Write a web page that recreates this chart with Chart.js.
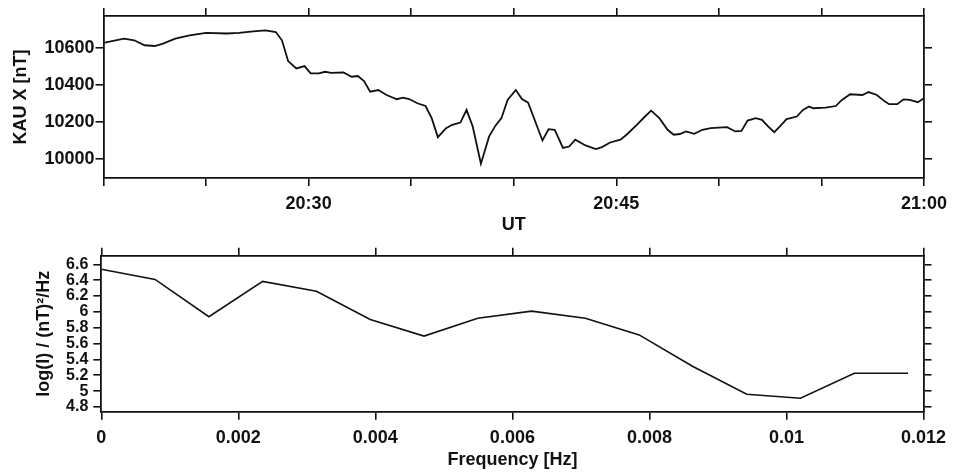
<!DOCTYPE html>
<html>
<head>
<meta charset="utf-8">
<script src="https://cdn.jsdelivr.net/npm/chart.js@4.4.1/dist/chart.umd.min.js"></script>
<style>
  body { margin: 0; background: #fff; }
  .panel { position: absolute; left: 0; width: 954px; height: 236px; }
</style>
</head>
<body>
<div class="panel" style="top:0"><canvas id="tsChart"></canvas></div>
<div class="panel" style="top:236px"><canvas id="specChart"></canvas></div>
<script>
// --- top panel: KAU X component, minutes after 20:00 UT
const utMinutes = [20.0, 21.0, 21.5, 22.0, 22.5, 22.9, 23.5, 24.2, 25.0, 26.0, 26.6, 27.3, 27.9, 28.4, 28.7,
  29.0, 29.4, 29.8, 30.1, 30.5, 30.8, 31.1, 31.7, 32.1, 32.4, 32.7, 33.0, 33.4, 33.8, 34.3, 34.6, 34.9,
  35.3, 35.7, 36.0, 36.3, 36.7, 37.0, 37.4, 37.7, 38.0, 38.4, 38.8, 39.1, 39.4, 39.7, 40.1, 40.4, 40.7,
  41.4, 41.7, 42.0, 42.4, 42.7, 43.0, 43.5, 44.0, 44.3, 44.7, 45.2, 45.5, 46.0, 46.4, 46.7, 47.1, 47.5,
  47.8, 48.1, 48.4, 48.8, 49.2, 49.6, 50.0, 50.4, 50.8, 51.1, 51.4, 51.8, 52.1, 52.4, 52.7, 53.0, 53.3,
  53.8, 54.1, 54.4, 54.6, 55.2, 55.7, 56.0, 56.4, 57.0, 57.3, 57.7, 58.1, 58.3, 58.7, 59.0, 59.3, 59.7, 60.0];
const kauX = [10629, 10652, 10643, 10616, 10612, 10625, 10652, 10670, 10683, 10680, 10683, 10692, 10697, 10688, 10643,
  10530, 10490, 10503, 10463, 10463, 10472, 10466, 10468, 10445, 10449, 10422, 10364, 10373, 10346, 10323, 10331, 10324,
  10301, 10286, 10220, 10117, 10166, 10184, 10196, 10265, 10175, 9973, 10121, 10178, 10220, 10319, 10373, 10324, 10304,
  10099, 10160, 10157, 10058, 10066, 10103, 10072, 10052, 10063, 10088, 10103, 10130, 10184, 10229, 10261, 10220, 10157,
  10130, 10134, 10148, 10135, 10157, 10166, 10169, 10171, 10148, 10151, 10207, 10220, 10211, 10175, 10144, 10178, 10215,
  10229, 10265, 10283, 10274, 10277, 10286, 10319, 10350, 10346, 10362, 10346, 10310, 10296, 10296, 10322, 10319, 10307, 10328];
const utTicks = [20, 25, 30, 35, 40, 45, 50, 55, 60];
const utTickLabels = ['', '', '20:30', '', '', '20:45', '', '', '21:00'];
const kauTicks = [10000, 10200, 10400, 10600];

// --- bottom panel: power spectrum
const freqHz = [0, 0.000785, 0.00157, 0.002355, 0.00314, 0.003925, 0.00471, 0.005495,
  0.00628, 0.007065, 0.00785, 0.008635, 0.00942, 0.010205, 0.01099, 0.011775];
const logPower = [6.54, 6.41, 5.94, 6.385, 6.26, 5.905, 5.695, 5.92,
  6.01, 5.92, 5.71, 5.31, 4.96, 4.91, 5.225, 5.225];
const freqTicks = [0, 0.002, 0.004, 0.006, 0.008, 0.01, 0.012];
const powerTicks = [4.8, 5, 5.2, 5.4, 5.6, 5.8, 6, 6.2, 6.4, 6.6];

Chart.defaults.font.family = '"Liberation Sans", Arial, sans-serif';
Chart.defaults.font.weight = 'bold';
Chart.defaults.color = '#111';

const ink = '#111';
const setTicks = vals => s => { s.ticks = vals.map(v => ({ value: v })); };
const fixH = h => s => { s.height = h; };
const fixW = w => s => { s.width = w; };

function axis(extra) {
  return Object.assign({
    type: 'linear',
    grid: { drawOnChartArea: false, drawTicks: true, tickLength: 8, color: ink, lineWidth: 1.6 },
    border: { display: true, color: ink, width: 1.8 },
  }, extra);
}

new Chart(document.getElementById('tsChart'), {
  type: 'line',
  data: {
    datasets: [{
      data: utMinutes.map((t, i) => ({ x: t, y: kauX[i] })),
      borderColor: ink,
      borderWidth: 1.8,
      pointRadius: 0,
      tension: 0,
      xAxisID: 'x',
      yAxisID: 'y'
    }]
  },
  options: {
    responsive: true,
    maintainAspectRatio: false,
    animation: false,
    layout: { padding: 0 },
    plugins: { legend: { display: false }, tooltip: { enabled: false } },
    scales: {
      x: axis({
        position: 'bottom', min: 20, max: 60,
        afterBuildTicks: setTicks(utTicks),
        afterFit: fixH(58),
        ticks: { autoSkip: false, maxRotation: 0, padding: 7, font: { size: 18 },
          callback: (v, i) => utTickLabels[i] },
        title: { display: true, text: 'UT', font: { size: 18 }, padding: { top: 0, bottom: 0 } }
      }),
      x2: axis({
        position: 'top', min: 20, max: 60,
        afterBuildTicks: setTicks(utTicks),
        afterFit: fixH(16),
        ticks: { display: false }
      }),
      y: axis({
        position: 'left', min: 9895, max: 10775,
        afterBuildTicks: setTicks(kauTicks),
        afterFit: fixW(103.5),
        ticks: { autoSkip: false, padding: 1, font: { size: 18 }, callback: v => String(v) },
        title: { display: true, text: 'KAU X [nT]', font: { size: 18 }, padding: { top: 10, bottom: 0 } }
      }),
      y2: axis({
        position: 'right', min: 9895, max: 10775,
        afterBuildTicks: setTicks(kauTicks),
        afterFit: fixW(22.7),
        ticks: { display: false }
      })
    }
  }
});

new Chart(document.getElementById('specChart'), {
  type: 'line',
  data: {
    datasets: [{
      data: freqHz.map((f, i) => ({ x: f, y: logPower[i] })),
      borderColor: ink,
      borderWidth: 1.6,
      pointRadius: 0,
      tension: 0,
      xAxisID: 'x',
      yAxisID: 'y'
    }]
  },
  options: {
    responsive: true,
    maintainAspectRatio: false,
    animation: false,
    layout: { padding: 0 },
    plugins: { legend: { display: false }, tooltip: { enabled: false } },
    scales: {
      x: axis({
        position: 'bottom', min: 0, max: 0.012,
        afterBuildTicks: setTicks(freqTicks),
        afterFit: fixH(60.3),
        ticks: { autoSkip: false, maxRotation: 0, padding: 8, font: { size: 18 },
          callback: v => String(+v.toFixed(3)) },
        title: { display: true, text: 'Frequency [Hz]', font: { size: 18 }, padding: { top: 0, bottom: 1 } }
      }),
      x2: axis({
        position: 'top', min: 0, max: 0.012,
        afterBuildTicks: setTicks(freqTicks),
        afterFit: fixH(19.7),
        ticks: { display: false }
      }),
      y: axis({
        position: 'left', min: 4.74, max: 6.71,
        afterBuildTicks: setTicks(powerTicks),
        afterFit: fixW(101.3),
        ticks: { autoSkip: false, padding: 5, font: { size: 16 },
          callback: v => String(+v.toFixed(1)) },
        title: { display: true, text: 'log(I) / (nT)²/Hz', font: { size: 18 }, padding: { top: 33, bottom: 0 } }
      }),
      y2: axis({
        position: 'right', min: 4.74, max: 6.71,
        afterBuildTicks: setTicks(powerTicks),
        afterFit: fixW(26.7),
        ticks: { display: false }
      })
    }
  }
});
</script>
</body>
</html>
